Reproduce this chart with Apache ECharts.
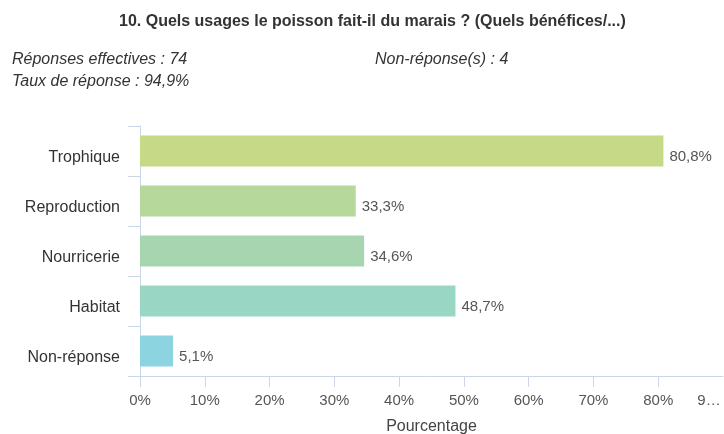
<!DOCTYPE html>
<html>
<head>
<meta charset="utf-8">
<script src="https://cdn.jsdelivr.net/npm/echarts@6/dist/echarts.min.js"></script>
<style>
  html, body { margin: 0; padding: 0; background: #ffffff; overflow: hidden; }
  #chart { width: 724px; height: 434px; }
</style>
</head>
<body>
<div id="chart"></div>
<script>
// Survey answers: fish uses of the marsh
const categories = ['Trophique', 'Reproduction', 'Nourricerie', 'Habitat', 'Non-réponse'];
const percentages = [80.8, 33.3, 34.6, 48.7, 5.1];
const barColors = ['#c5d987', '#b6d89b', '#a6d5af', '#9ad6c4', '#8cd4e0'];
const xTicks = [0, 10, 20, 30, 40, 50, 60, 70, 80, 90];

const titleText = '10. Quels usages le poisson fait-il du marais ? (Quels bénéfices/...)';
const infoLines = ['Réponses effectives : 74', 'Taux de réponse : 94,9%'];
const infoRight = 'Non-réponse(s) : 4';

const font = '"Liberation Sans", Arial, sans-serif';
const axisColor = '#ccd6eb';

const fmtPct = v => v.toFixed(1).replace('.', ',') + '%';

const chart = echarts.init(document.getElementById('chart'), null, { renderer: 'canvas', width: 724, height: 434 });

const infoStyle = { fontFamily: font, fontSize: 16, fontStyle: 'italic', fontWeight: 'normal', color: '#333' };

chart.setOption({
  animation: false,
  title: [
    { text: titleText, left: 114, top: 9,
      textStyle: { fontFamily: font, fontSize: 16, fontWeight: 'bold', color: '#333' } },
    { text: infoLines[0], left: 7, top: 47, textStyle: infoStyle },
    { text: infoLines[1], left: 7, top: 69, textStyle: infoStyle },
    { text: infoRight, left: 370, top: 47, textStyle: infoStyle }
  ],
  grid: { left: 140, top: 126, width: 583, height: 250, containLabel: false, outerBoundsMode: 'none' },
  xAxis: {
    type: 'value',
    min: xTicks[0],
    max: xTicks[xTicks.length - 1],
    interval: 10,
    name: 'Pourcentage',
    nameLocation: 'middle',
    nameGap: 43,
    nameTextStyle: { fontFamily: font, fontSize: 16, color: '#444' },
    axisLine: { show: true, lineStyle: { color: axisColor, width: 1 } },
    axisTick: { show: true, length: 11, customValues: xTicks.slice(0, -1), lineStyle: { color: axisColor } },
    splitLine: { show: false },
    axisLabel: {
      margin: 17,
      fontFamily: font, fontSize: 15, color: '#555',
      showMaxLabel: true,
      formatter: v => v === 90 ? '{r|9…}' : v + '%',
      rich: { r: { fontFamily: font, fontSize: 15, color: '#555', padding: [0, 28, 0, 0] } }
    }
  },
  yAxis: {
    type: 'category',
    data: categories,
    inverse: true,
    axisLine: { show: true, lineStyle: { color: axisColor, width: 1 } },
    axisTick: { show: true, length: 12, alignWithLabel: false, lineStyle: { color: axisColor } },
    axisLabel: {
      margin: 20, fontFamily: font, fontSize: 16, color: '#333',
      formatter: v => '{c|' + v + '}',
      rich: { c: { fontFamily: font, fontSize: 16, color: '#333', padding: [13, 0, 0, 0] } }
    },
    splitLine: { show: false }
  },
  series: [{
    type: 'bar',
    data: percentages.map((v, i) => ({ value: v, itemStyle: { color: barColors[i] } })),
    barWidth: 31,
    label: {
      show: true,
      position: 'right',
      distance: 6,
      offset: [0, 6],
      fontFamily: font,
      fontSize: 15,
      color: '#555',
      formatter: p => fmtPct(p.value)
    }
  }]
});
</script>
</body>
</html>
